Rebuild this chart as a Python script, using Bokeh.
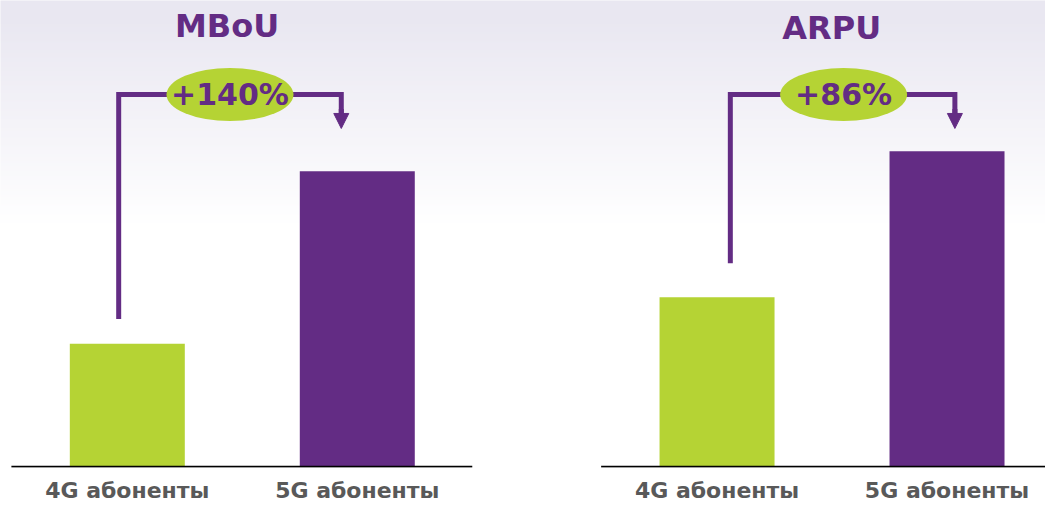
import numpy as np
from bokeh.plotting import figure
from bokeh.models import Range1d, Arrow, NormalHead, FixedTicker
from bokeh.core.properties import value
from bokeh.embed import file_html
from bokeh.resources import INLINE

# ---- data -------------------------------------------------------------
categories = ["4G абоненты", "5G абоненты"]
mbou_values = [100, 240]     # relative MBoU (4G = 100)
arpu_values = [100, 186]     # relative ARPU (4G = 100)
panel_titles = ["MBoU", "ARPU"]
growth_labels = ["+140%", "+86%"]

# ---- style ------------------------------------------------------------
PURPLE = "#632c84"
GREEN = "#b5d334"
GRAY = "#595959"
FONT = value("DejaVu Sans")
BAR_COLORS = [GREEN, PURPLE]

W, H = 1045, 507
REF_W, REF_H = 1061, 523
SX, SY = W / REF_W, H / REF_H
FRAME_H = 467                    # frame height in figure px
BASE = 481                       # baseline, reference px
REF_FRAME_BOTTOM = FRAME_H / SY  # frame bottom, reference px
UNIT = 233.5                     # reference px per category slot
ZERO = 12                        # reference px of first slot start
PANEL_GAP = 0.5643               # empty slots between the two panels

X = lambda px: (px - ZERO) / UNIT

p = figure(width=W, height=H, output_backend="svg", toolbar_location=None,
           y_axis_location=None,
           x_range=Range1d(X(0), X(REF_W)),
           y_range=Range1d((BASE - REF_FRAME_BOTTOM) / 1.27, BASE / 1.27),
           min_border=0, min_border_bottom=H - FRAME_H,
           background_fill_color="white", border_fill_color="white",
           outline_line_color=None)
p.extra_y_ranges = {"arpu": Range1d((BASE - REF_FRAME_BOTTOM) / 1.75,
                                    BASE / 1.75)}
p.xgrid.visible = False
p.ygrid.visible = False

# background gradient (lavender at top fading to white)
n = FRAME_H + 2
img = np.empty((n, 1), dtype=np.uint32)
view = img.view(dtype=np.uint8).reshape((n, 1, 4))
top = np.array([233, 231, 241], dtype=float)
for i in range(n):
    py = (n - (i + 0.5)) / SY
    t = min(max((py - 20) / 215.0, 0.0), 1.0)
    c = top + (255 - top) * t
    view[i, 0, 0:3] = np.round(c).astype(np.uint8)
    view[i, 0, 3] = 255
xr, yr = p.x_range, p.y_range
p.image_rgba(image=[img], x=xr.start - 0.05, y=yr.start - 1,
             dw=xr.end - xr.start + 0.1, dh=yr.end - yr.start + 2)


def draw_panel(title, vals, growth, offset, ppu, yname, baseline_end,
               bracket_x0, bracket_x1, ellipse_x, title_x, title_y):
    Y = lambda py: (BASE - py) / ppu
    kw = dict(y_range_name=yname)
    xs = [offset + i + 0.5 for i in range(len(categories))]

    p.vbar(x=xs, top=vals, bottom=0, width=0.5, color=BAR_COLORS,
           line_color=None, **kw)
    p.segment(x0=[offset - 0.004], y0=[0], x1=[baseline_end], y1=[0],
              line_color="black", line_width=2, **kw)

    yb = Y(97)
    p.line(x=[X(bracket_x0), X(bracket_x0), X(bracket_x1), X(bracket_x1)],
           y=[vals[0] + 20, yb, yb, Y(118)],
           line_color=PURPLE, line_width=5, line_join="miter", **kw)
    p.add_layout(Arrow(end=NormalHead(size=15, fill_color=PURPLE,
                                      line_color=PURPLE, line_width=1),
                       x_start=X(bracket_x1), y_start=Y(112),
                       x_end=X(bracket_x1), y_end=Y(132),
                       line_color=PURPLE, line_width=5, **kw))

    p.ellipse(x=[X(ellipse_x)], y=[yb], width=127, height=53,
              width_units="screen", height_units="screen",
              fill_color=GREEN, line_color=None, **kw)
    p.text(x=[X(ellipse_x)], y=[yb], text=[growth], text_font=FONT,
           text_font_style="bold", text_font_size="30px",
           text_color=PURPLE, text_align="center", text_baseline="middle",
           **kw)
    p.text(x=[X(title_x)], y=[Y(title_y)], text=[title], text_font=FONT,
           text_font_style="bold", text_font_size="32px",
           text_color=PURPLE, text_align="center", text_baseline="middle",
           **kw)
    return xs


xs1 = draw_panel(panel_titles[0], mbou_values, growth_labels[0],
                 offset=0, ppu=1.27, yname="default", baseline_end=2.0,
                 bracket_x0=120, bracket_x1=346, ellipse_x=233,
                 title_x=230, title_y=26)
xs2 = draw_panel(panel_titles[1], arpu_values, growth_labels[1],
                 offset=2 + PANEL_GAP, ppu=1.75, yname="arpu",
                 baseline_end=X(REF_W) + 0.05,
                 bracket_x0=741, bracket_x1=969, ellipse_x=856,
                 title_x=844, title_y=28.5)

ticks = xs1 + xs2
ax = p.xaxis[0]
ax.ticker = FixedTicker(ticks=ticks)
ax.major_label_overrides = {x: c for x, c in zip(ticks, categories * 2)}
ax.axis_line_color = None
ax.major_tick_line_color = None
ax.minor_tick_line_color = None
ax.major_tick_out = 0
ax.major_tick_in = 0
ax.major_label_text_font = "DejaVu Sans"
ax.major_label_text_font_style = "bold"
ax.major_label_text_font_size = "22px"
ax.major_label_text_color = GRAY
ax.major_label_standoff = 10

open("out.html", "w").write(file_html(p, INLINE))
